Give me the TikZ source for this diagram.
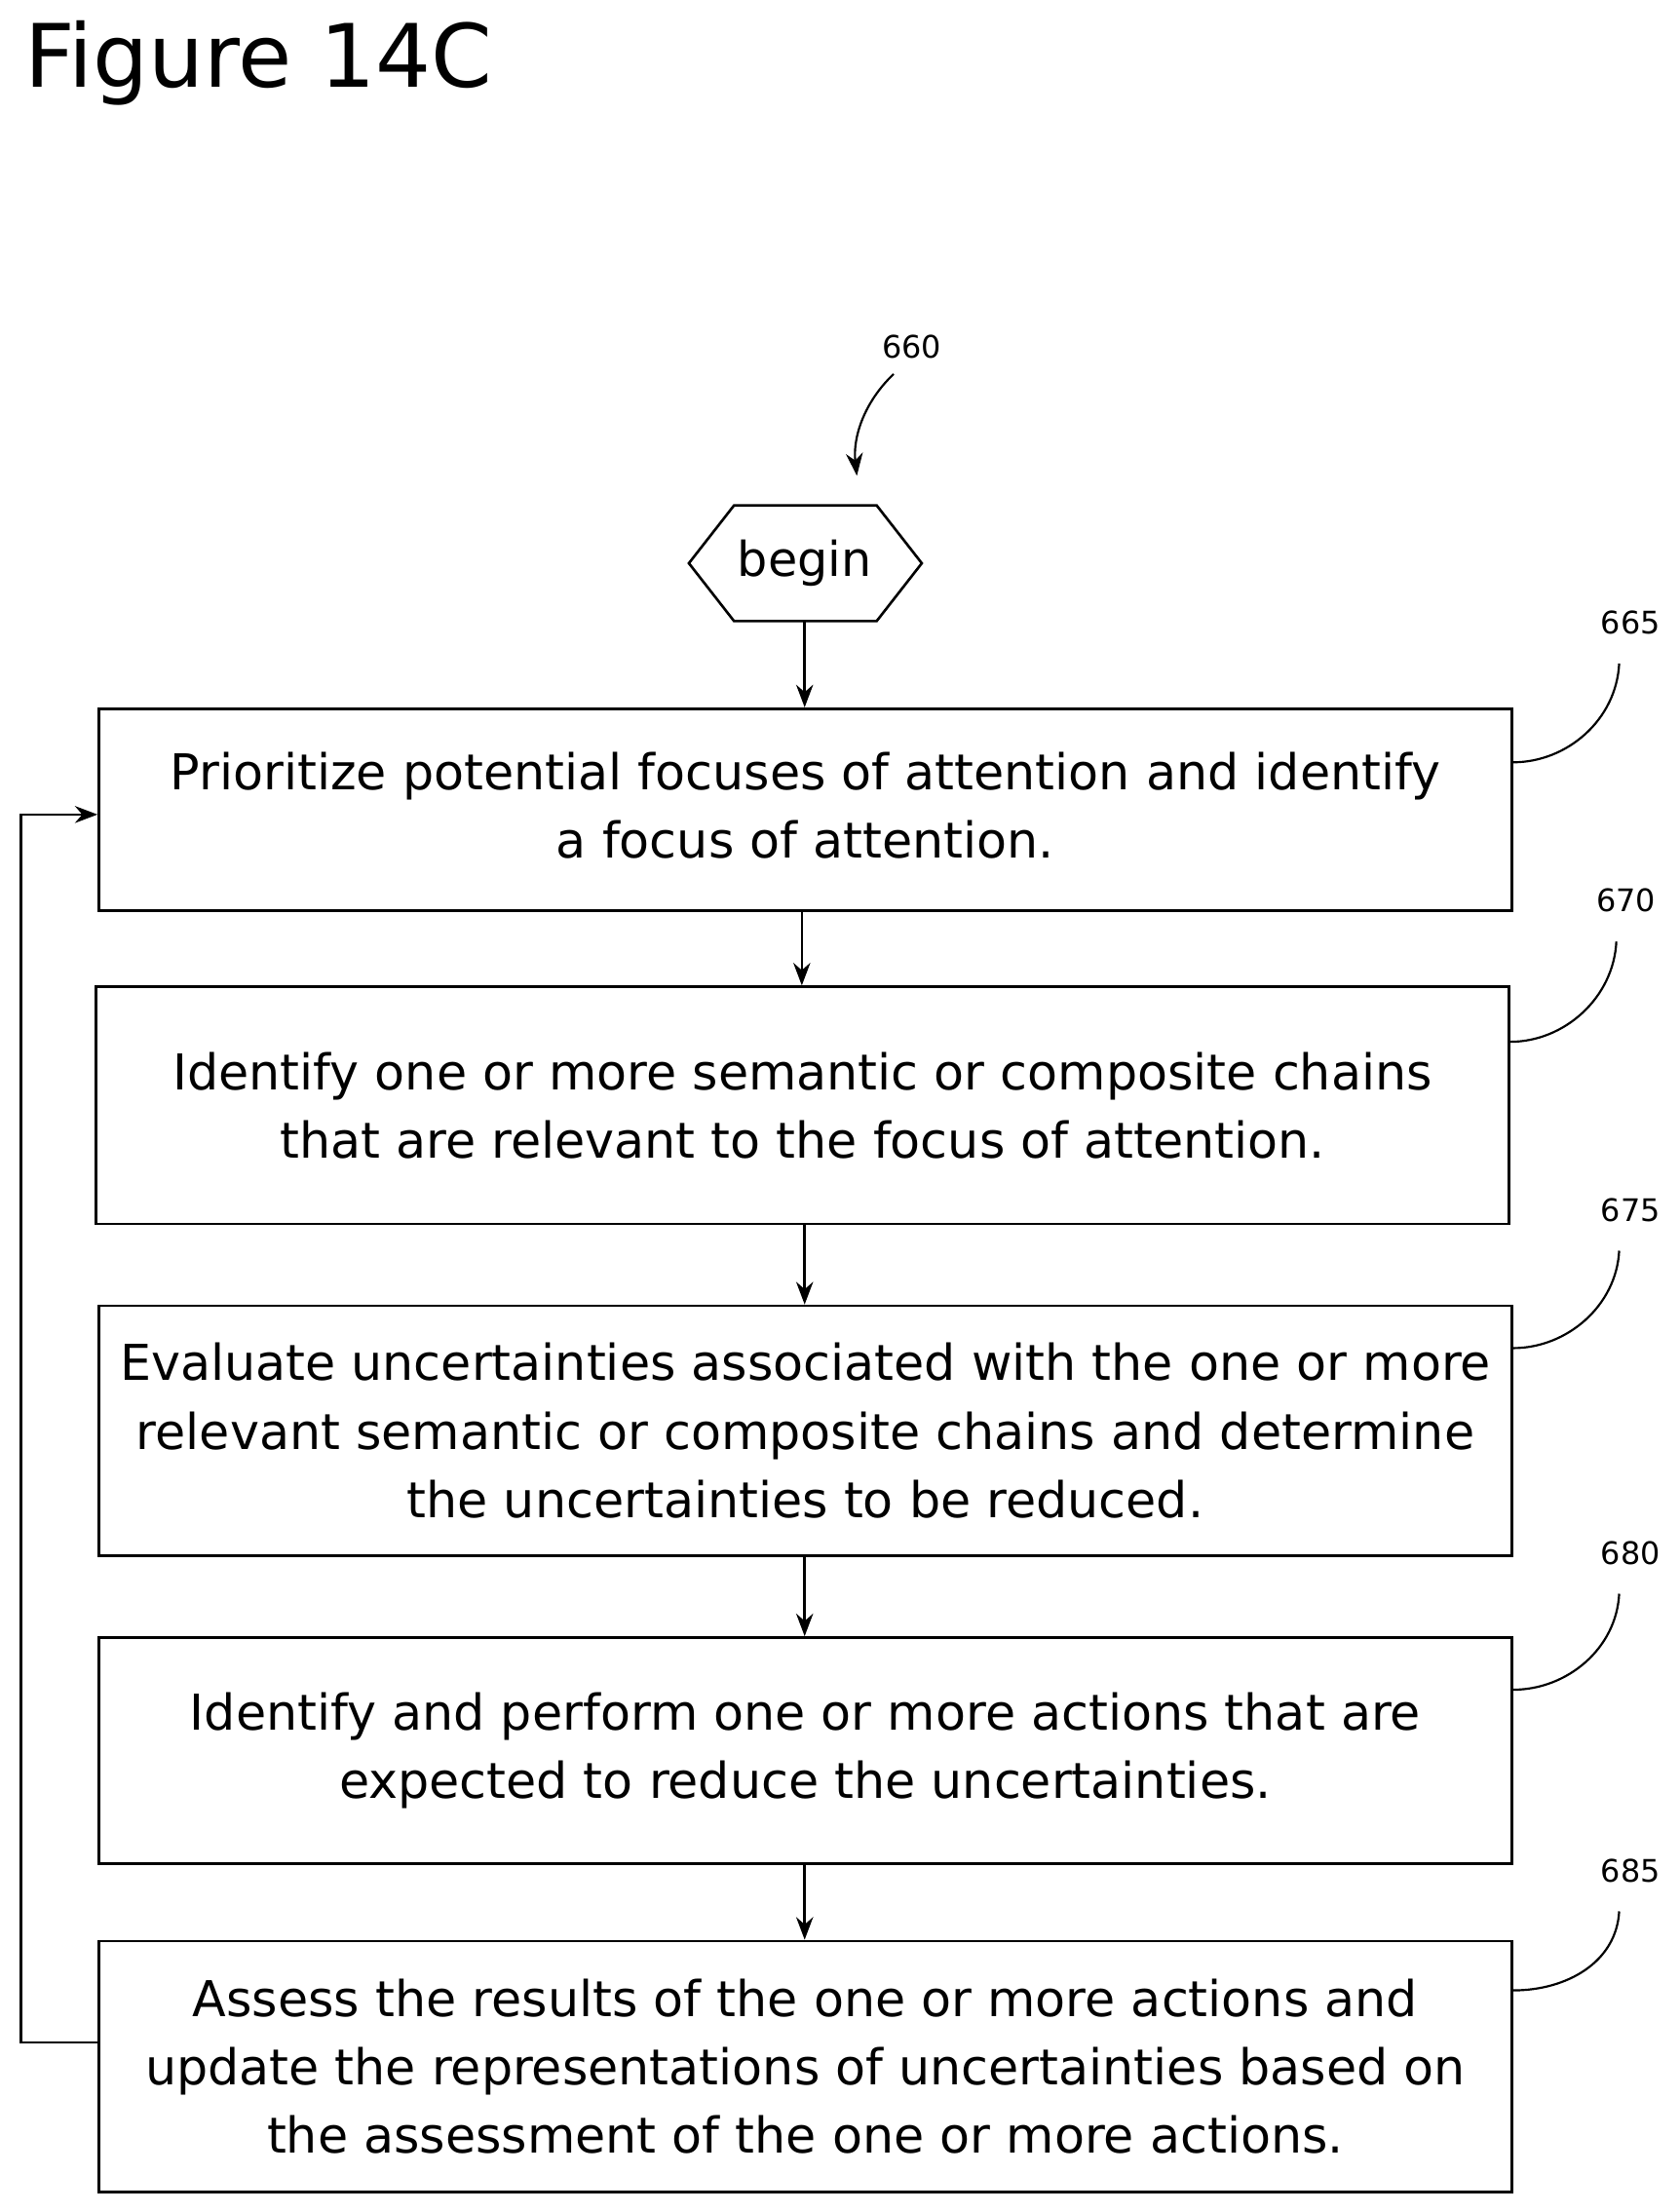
\documentclass[tikz,border=0pt]{standalone}
\usepackage{fontspec}
\setmainfont{DejaVu Sans}
\usetikzlibrary{arrows.meta}
\begin{document}
\begin{tikzpicture}[x=1pt,y=-1pt,
  box/.style={draw,line width=1.8pt,inner sep=0pt},
  txt/.style={font=\fontsize{35}{48.5}\selectfont,align=center},
  arr/.style={line width=1.8pt,-{Stealth[length=16pt,width=12pt]}},
  lbl/.style={font=\fontsize{22}{26}\selectfont},
  lead/.style={line width=1.5pt}]
\useasboundingbox (0,0) rectangle (1190,1567);
\node[anchor=west,font=\fontsize{62}{72}\selectfont] (title) at (14,45) {Figure 14C};
\draw[line width=1.8pt] (488,399) -- (520,358) -- (621,358) -- (653,399) -- (621,440) -- (520,440) -- cycle;
\node[font=\fontsize{34}{40}\selectfont] (begt) at (570,399) {begin};
\coordinate (begb) at (570,440);
\node[box,minimum width=1001,minimum height=143] (b1) at (570.5,573.5) {};
\node[txt] at ([yshift=3]b1) {Prioritize potential focuses of attention and identify\\a focus of attention.};
\node[box,minimum width=1001,minimum height=168] (b2) at (568.5,783) {};
\node[txt] at (b2) {Identify one or more semantic or composite chains\\that are relevant to the focus of attention.};
\node[box,minimum width=1001,minimum height=177] (b3) at (570.5,1013.5) {};
\node[txt] at (b3) {Evaluate uncertainties associated with the one or more\\relevant semantic or composite chains and determine\\the uncertainties to be reduced.};
\node[box,minimum width=1001,minimum height=160] (b4) at (570.5,1240) {};
\node[txt] at (b4) {Identify and perform one or more actions that are\\expected to reduce the uncertainties.};
\node[box,minimum width=1001,minimum height=178] (b5) at (570.5,1464) {};
\node[txt] at (b5) {Assess the results of the one or more actions and\\update the representations of uncertainties based on\\the assessment of the one or more actions.};
\draw[arr] (begb) -- (b1.north -| begb);
\draw[arr] (b1.south -| 568,0) -- (b2.north -| 568,0);
\draw[arr] (b2.south -| 570,0) -- (b3.north -| 570,0);
\draw[arr] (b3.south -| 570,0) -- (b4.north -| 570,0);
\draw[arr] (b4.south -| 570,0) -- (b5.north -| 570,0);
\coordinate (fb1) at (15,1447);
\coordinate (fb2) at (15,577);
\draw[arr] (b5.west |- fb1) -- (fb1) -- (fb2) -- (b1.west |- fb2);
\node[lbl] (l660) at (646,246) {660};
\draw[lead,-{Stealth[length=16pt,width=12pt]}] (633,265) .. controls (612,285) and (604,310) .. (607,337);
\node[lbl] (l665) at (1155,441) {665};
\draw[lead] (1147,470) .. controls (1145,510) and (1110,540) .. (b1.east |- 0,540);
\node[lbl] (l670) at (1152,638) {670};
\draw[lead] (1145,667) .. controls (1143,707) and (1108,738) .. (b2.east |- 0,738);
\node[lbl] (l675) at (1155,857) {675};
\draw[lead] (1147,886) .. controls (1145,925) and (1110,955) .. (b3.east |- 0,955);
\node[lbl] (l680) at (1155,1100) {680};
\draw[lead] (1147,1129) .. controls (1145,1168) and (1110,1197) .. (b4.east |- 0,1197);
\node[lbl] (l685) at (1155,1325) {685};
\draw[lead] (1147,1354) .. controls (1145,1390) and (1110,1410) .. (b5.east |- 0,1410);
\end{tikzpicture}
\end{document}
